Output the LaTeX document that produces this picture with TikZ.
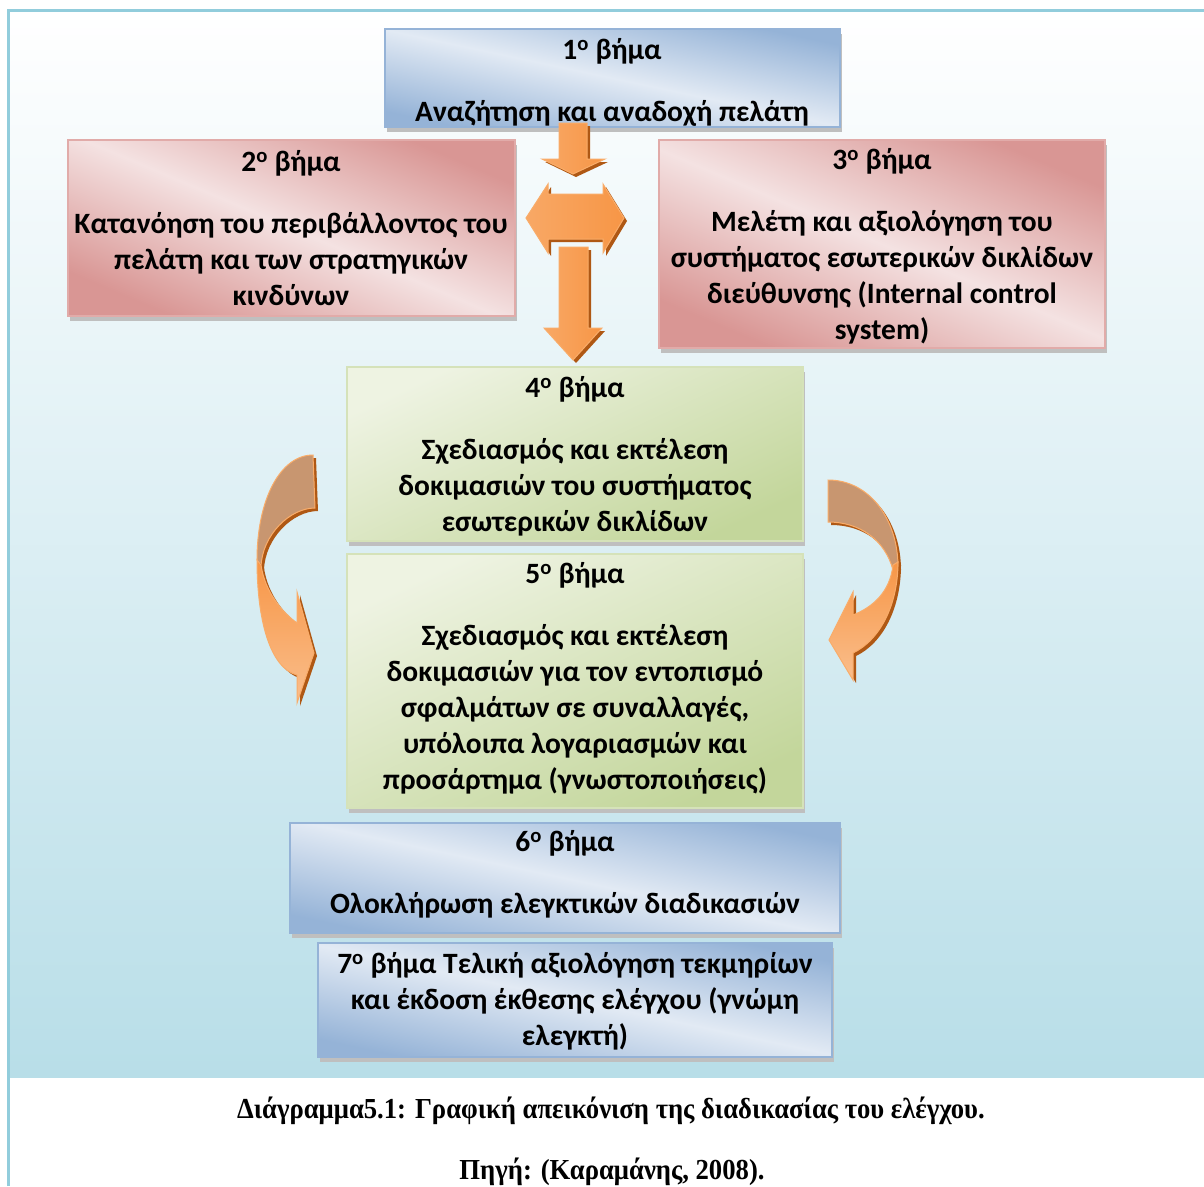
\documentclass[tikz,border=0pt]{standalone}
\usepackage{fontspec}
\setmainfont{Carlito}[BoldFont={* Bold}]
\newfontfamily\capfont[FakeStretch=0.92]{Liberation Serif Bold}
\usetikzlibrary{shadows, calc}

\definecolor{framecol}{RGB}{146,205,220}
\definecolor{bgbottom}{RGB}{184,222,232}
\definecolor{bluedark}{RGB}{149,179,215}
\definecolor{bluelight}{RGB}{226,234,244}
\definecolor{reddark}{RGB}{217,150,148}
\definecolor{redlight}{RGB}{244,226,226}
\definecolor{greendark}{RGB}{195,214,155}
\definecolor{greenlight}{RGB}{238,243,226}
\definecolor{orangemain}{RGB}{247,150,70}
\definecolor{orangelight}{RGB}{250,190,140}
\definecolor{orangeedge}{RGB}{249,172,105}
\definecolor{orangeshadow}{RGB}{175,88,20}
\definecolor{orangeback}{RGB}{200,150,112}

\tikzset{
  stepbox/.style={rectangle, inner sep=0pt, outer sep=0pt, line width=1.5pt,
    general shadow={shadow xshift=2pt, shadow yshift=-5pt, fill=gray!50}},
  bluebox/.style={stepbox, draw=bluedark, top color=bluedark, bottom color=bluedark,
    middle color=bluelight, shading angle=-12},
  redbox/.style={stepbox, draw=reddark!80, top color=reddark, bottom color=reddark,
    middle color=redlight, shading angle=-23},
  greenbox/.style={stepbox, draw=greendark!70, top color=greenlight, bottom color=greendark,
    shading angle=25},
  steptext/.style={font=\fontsize{29.5}{36}\selectfont\bfseries, align=center, inner sep=0pt},
  captext/.style={font=\capfont\fontsize{29}{32}\selectfont, inner sep=0pt},
  blockarrow/.style={left color=orangemain!55!orangelight, right color=orangemain, draw=orangeedge,
    line width=1pt, general shadow={shadow xshift=3pt, shadow yshift=-3pt, fill=orangeshadow}},
  curvefront/.style={top color=orangemain, bottom color=orangelight, draw=orangeedge,
    line width=1pt, general shadow={shadow xshift=3pt, shadow yshift=-3pt, fill=orangeshadow}},
  curveback/.style={fill=orangeback, draw=orangeedge, line width=1pt,
    general shadow={shadow xshift=3pt, shadow yshift=-3pt, fill=orangeshadow}},
}

\begin{document}
\begin{tikzpicture}[x=1pt, y=-1pt]
  \useasboundingbox (0,0) rectangle (1204,1186);

  % background and frame
  \shade[top color=white, bottom color=bgbottom] (10,12) rectangle (1204,1077);
  \draw[framecol, line width=3pt] (8.5,1186) -- (8.5,10.5) -- (1204,10.5);

  % step boxes
  \node[bluebox, minimum width=455pt, minimum height=98pt] (b1) at (612.5,78) {};
  \node[redbox, minimum width=447pt, minimum height=176pt] (b2) at (291.5,228) {};
  \node[redbox, minimum width=446pt, minimum height=208pt] (b3) at (882,244) {};
  \node[greenbox, minimum width=456pt, minimum height=174pt] (b4) at (575,454) {};
  \node[greenbox, minimum width=456pt, minimum height=254pt] (b5) at (575,681) {};
  \node[bluebox, minimum width=550pt, minimum height=110pt] (b6) at (565,878) {};
  \node[bluebox, minimum width=514pt, minimum height=114pt] (b7) at (575,1000) {};

  % texts
  \node[steptext] (t1) at (612,82) {1\textsuperscript{o} βήμα\\[26pt]
    Αναζήτηση και αναδοχή πελάτη};
  \node[steptext] (t2) at (291,228) {2\textsuperscript{o} βήμα\\[26pt]
    Κατανόηση του περιβάλλοντος του\\ πελάτη και των στρατηγικών\\ κινδύνων};
  \node[steptext] (t3) at (882,246) {3\textsuperscript{o} βήμα\\[26pt]
    Μελέτη και αξιολόγηση του\\ συστήματος εσωτερικών δικλίδων\\
    διεύθυνσης (Internal control\\ system)};
  \node[steptext] (t4) at (575,456) {4\textsuperscript{o} βήμα\\[26pt]
    Σχεδιασμός και εκτέλεση\\ δοκιμασιών του συστήματος\\ εσωτερικών δικλίδων};
  \node[steptext] (t5) at (575,678) {5\textsuperscript{o} βήμα\\[26pt]
    Σχεδιασμός και εκτέλεση\\ δοκιμασιών για τον εντοπισμό\\
    σφαλμάτων σε συναλλαγές,\\ υπόλοιπα λογαριασμών και\\
    προσάρτημα (γνωστοποιήσεις)};
  \node[steptext] (t6) at (565,874) {6\textsuperscript{o} βήμα\\[26pt]
    Ολοκλήρωση ελεγκτικών διαδικασιών};
  \node[steptext] (t7) at (575,1001) {7\textsuperscript{o} βήμα Τελική αξιολόγηση τεκμηρίων\\
    και έκδοση έκθεσης ελέγχου (γνώμη\\ ελεγκτή)};

  % block arrows between the top boxes
  \path[blockarrow] (559,123) -- (587,123) -- (587,159) -- (605,159) -- (573,174)
    -- (542,159) -- (559,159) -- cycle;
  \path[blockarrow] (526,218) -- (548,184) -- (548,194) -- (603,194) -- (603,184)
    -- (624,218) -- (603,253) -- (603,239) -- (548,239) -- (548,253) -- cycle;
  \path[blockarrow] (559,247) -- (588,247) -- (588,328) -- (602,328) -- (573,360)
    -- (544,328) -- (559,328) -- cycle;

  % left curved arrow
  \path[curveback] (313,455) .. controls (280,455) and (257,500) .. (257,560)
    -- (261,567) .. controls (262,535) and (290,508) .. (315,508) -- cycle;
  \path[curvefront] (257,560) .. controls (257,620) and (270,668) .. (297,675)
    -- (297,703) -- (314,653) -- (297,592) -- (297,623)
    .. controls (282,612) and (265,592) .. (261,565) -- cycle;

  % right curved arrow
  \path[curveback] (828,480) .. controls (870,480) and (898,520) .. (898,567)
    -- (893,570) .. controls (885,540) and (860,522) .. (828,522) -- cycle;
  \path[curvefront] (898,562) .. controls (898,605) and (880,640) .. (853,653)
    -- (853,680) -- (829,640) -- (853,592) -- (853,615)
    .. controls (873,607) and (890,592) .. (893,565) -- cycle;

  % caption
  \node[captext] (cap1) at (611,1111) {Διάγραμμα5.1: Γραφική απεικόνιση της διαδικασίας του ελέγχου.};
  \node[captext] (cap2) at (612,1172) {Πηγή: (Καραμάνης, 2008).};
\end{tikzpicture}
\end{document}
